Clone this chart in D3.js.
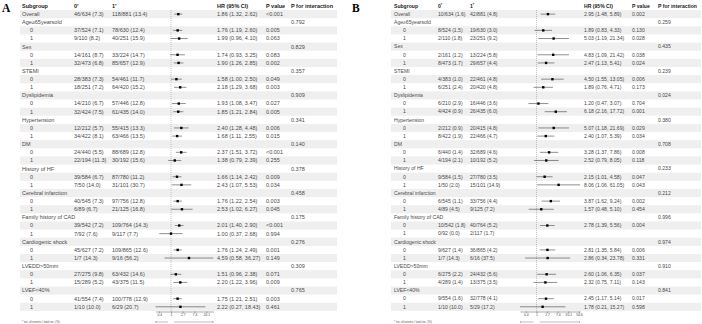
<!DOCTYPE html>
<html>
<head>
<meta charset="utf-8">
<script src="https://cdn.jsdelivr.net/npm/d3@7"></script>
<style>
    html, body { margin: 0; padding: 0; background: #ffffff; }
    svg { display: block; font-family: "Liberation Sans", Arial, sans-serif; }
</style>
</head>
<body>
<svg id="chart" width="702" height="324"></svg>
<script>
/* =========================================================
   Data: subgroup rows (shared by both panels)
   ========================================================= */

const rowLabels = [
    "Overall",
    "Age≥65yearsold", "0", "1",
    "Sex", "0", "1",
    "STEMI", "0", "1",
    "Dyslipidemia", "0", "1",
    "Hypertension", "0", "1",
    "DM", "0", "1",
    "History of HF", "0", "1",
    "Cerebral infarction", "0", "1",
    "Family history of CAD", "0", "1",
    "Cardiogenic shock", "0", "1",
    "LVEDD>50mm", "0", "1",
    "LVEF<40%", "0", "1"
];

const headerLabels = ["Subgroup", "0", "1", "HR (95% CI)", "P value", "P for interaction"];

/* ---------- Panel A ---------- */

const aEvents0 = ["46/634 (7.3)", "", "37/524 (7.1)", "9/110 (8.2)", "", "14/161 (8.7)", "32/473 (6.8)", "", "28/383 (7.3)", "18/251 (7.2)", "", "14/210 (6.7)", "32/424 (7.5)", "", "12/212 (5.7)", "34/422 (8.1)", "", "24/440 (5.5)", "22/194 (11.3)", "", "39/584 (6.7)", "7/50 (14.0)", "", "40/545 (7.3)", "6/89 (6.7)", "", "39/542 (7.2)", "7/92 (7.6)", "", "45/627 (7.2)", "1/7 (14.3)", "", "27/275 (9.8)", "15/289 (5.2)", "", "41/554 (7.4)", "1/10 (10.0)"];
const aEvents1 = ["118/881 (13.4)", "", "78/630 (12.4)", "40/251 (15.9)", "", "33/224 (14.7)", "85/657 (12.9)", "", "54/461 (11.7)", "64/420 (15.2)", "", "57/446 (12.8)", "61/435 (14.0)", "", "55/415 (13.3)", "63/466 (13.5)", "", "88/689 (12.8)", "30/192 (15.6)", "", "87/780 (11.2)", "31/101 (30.7)", "", "97/756 (12.8)", "21/125 (16.8)", "", "109/764 (14.3)", "9/117 (7.7)", "", "109/865 (12.6)", "9/16 (56.2)", "", "63/432 (14.6)", "43/375 (11.5)", "", "100/778 (12.9)", "6/29 (20.7)"];
const aHR = [1.86, null, 1.76, 1.99, null, 1.74, 1.90, null, 1.58, 2.18, null, 1.93, 1.85, null, 2.40, 1.68, null, 2.37, 1.38, null, 1.66, 2.43, null, 1.76, 2.53, null, 2.01, 1.00, null, 1.76, 4.59, null, 1.51, 2.20, null, 1.75, 2.22];
const aLo = [1.32, null, 1.19, 0.96, null, 0.93, 1.26, null, 1.00, 1.29, null, 1.08, 1.21, null, 1.28, 1.11, null, 1.51, 0.79, null, 1.14, 1.07, null, 1.22, 1.02, null, 1.40, 0.37, null, 1.24, 0.58, null, 0.96, 1.22, null, 1.21, 0.27];
const aHi = [2.62, null, 2.60, 4.10, null, 3.25, 2.85, null, 2.50, 3.68, null, 3.47, 2.84, null, 4.48, 2.55, null, 3.72, 2.39, null, 2.42, 5.53, null, 2.54, 6.27, null, 2.90, 2.68, null, 2.49, 36.27, null, 2.38, 3.96, null, 2.51, 18.43];
const aP = ["<0.001", "", "0.005", "0.063", "", "0.083", "0.002", "", "0.049", "0.003", "", "0.027", "0.005", "", "0.006", "0.015", "", "<0.001", "0.255", "", "0.009", "0.034", "", "0.003", "0.045", "", "<0.001", "0.994", "", "0.001", "0.149", "", "0.071", "0.009", "", "0.003", "0.461"];
const aPint = ["", "0.792", "", "", "0.829", "", "", "0.357", "", "", "0.909", "", "", "0.341", "", "", "0.140", "", "", "0.378", "", "", "0.458", "", "", "0.175", "", "", "0.276", "", "", "0.309", "", "", "0.765", "", ""];
const aTickLabels = ["0.4", "1", "2.7", "7.4", "20.1"];

/* ---------- Panel B ---------- */

const bEvents0 = ["10/634 (1.6)", "", "8/524 (1.5)", "2/110 (1.8)", "", "2/161 (1.2)", "8/473 (1.7)", "", "4/383 (1.0)", "6/251 (2.4)", "", "6/210 (2.9)", "4/424 (0.9)", "", "2/212 (0.9)", "8/422 (1.9)", "", "6/440 (1.4)", "4/194 (2.1)", "", "9/584 (1.5)", "1/50 (2.0)", "", "6/545 (1.1)", "4/89 (4.5)", "", "10/542 (1.8)", "0/92 (0.0)", "", "9/627 (1.4)", "1/7 (14.3)", "", "6/275 (2.2)", "4/289 (1.4)", "", "9/554 (1.6)", "1/10 (10.0)"];
const bEvents1 = ["42/881 (4.8)", "", "19/630 (3.0)", "23/251 (9.2)", "", "13/224 (5.8)", "29/657 (4.4)", "", "22/461 (4.8)", "20/420 (4.8)", "", "16/446 (3.6)", "26/435 (6.0)", "", "20/415 (4.8)", "22/466 (4.7)", "", "32/689 (4.6)", "10/192 (5.2)", "", "27/780 (3.5)", "15/101 (14.9)", "", "33/756 (4.4)", "9/125 (7.2)", "", "40/764 (5.2)", "2/117 (1.7)", "", "36/865 (4.2)", "6/16 (37.5)", "", "24/432 (5.6)", "13/375 (3.5)", "", "32/778 (4.1)", "5/29 (17.2)"];
const bHR = [2.95, null, 1.89, 5.03, null, 4.83, 2.47, null, 4.50, 1.89, null, 1.20, 6.18, null, 5.07, 2.40, null, 3.28, 2.52, null, 2.15, 8.06, null, 3.87, 1.57, null, 2.78, null, null, 2.81, 2.86, null, 2.60, 2.32, null, 2.45, 1.78];
const bLo = [1.48, null, 0.83, 1.19, null, 1.09, 1.13, null, 1.55, 0.76, null, 0.47, 2.16, null, 1.18, 1.07, null, 1.37, 0.79, null, 1.01, 1.06, null, 1.62, 0.48, null, 1.39, null, null, 1.35, 0.34, null, 1.06, 0.75, null, 1.17, 0.21];
const bHi = [5.89, null, 4.33, 21.34, null, 21.42, 5.41, null, 13.05, 4.71, null, 3.07, 17.72, null, 21.69, 5.39, null, 7.86, 8.05, null, 4.58, 61.05, null, 9.24, 5.10, null, 5.56, null, null, 5.84, 23.78, null, 6.35, 7.11, null, 5.14, 15.27];
const bP = ["0.002", "", "0.130", "0.028", "", "0.038", "0.024", "", "0.006", "0.173", "", "0.704", "0.001", "", "0.029", "0.034", "", "0.008", "0.118", "", "0.047", "0.043", "", "0.002", "0.454", "", "0.004", "", "", "0.006", "0.331", "", "0.037", "0.143", "", "0.017", "0.598"];
const bPint = ["", "0.259", "", "", "0.435", "", "", "0.239", "", "", "0.024", "", "", "0.380", "", "", "0.708", "", "", "0.233", "", "", "0.212", "", "", "0.996", "", "", "0.974", "", "", "0.910", "", "", "0.841", "", ""];
const bTickLabels = ["0.4", "1", "2.7", "7.4", "20.1", "54.6"];

const footnote = "* no. of events / total no. (%)";

/* =========================================================
   Layout constants
   ========================================================= */

const HEADER_Y = 6;
const ROW_H = 8.13;
const AXIS_Y = 311.5;
const ARROW_Y = 322;
const TEXT_COLOR = "#4a4a4a";
const HEAD_COLOR = "#1a1a1a";
const SHADE = "#efefef";

const PANELS = [
    {
        letter: "A", letterX: 2, font: 5.5,
        shadeX0: 20, shadeX1: 337,
        subX: 22, lvlX: 30, c0X: 74, c1X: 112,
        ref: 171, ppu: 11.8,
        hrX: 217, pX: 266, pintX: 291,
        ev0: aEvents0, ev1: aEvents1, hr: aHR, lo: aLo, hi: aHi,
        p: aP, pint: aPint, ticks: aTickLabels
    },
    {
        letter: "B", letterX: 352, font: 5.1,
        shadeX0: 391, shadeX1: 701,
        subX: 394, lvlX: 403, c0X: 438, c1X: 470,
        ref: 536.5, ppu: 10.6,
        hrX: 584, pX: 632, pintX: 658,
        ev0: bEvents0, ev1: bEvents1, hr: bHR, lo: bLo, hi: bHi,
        p: bP, pint: bPint, ticks: bTickLabels
    }
];

const svg = d3.select("#chart");

svg.append("defs").append("marker")
    .attr("id", "arrow")
    .attr("viewBox", "0 0 6 6")
    .attr("refX", 5)
    .attr("refY", 3)
    .attr("markerWidth", 4)
    .attr("markerHeight", 4)
    .attr("orient", "auto-start-reverse")
    .append("path")
    .attr("d", "M0,0 L6,3 L0,6")
    .attr("fill", "none")
    .attr("stroke", "#555")
    .attr("stroke-width", 1);

function rowY(i) {
    return HEADER_Y + (i + 1) * ROW_H;
}

function fmt(v) {
    return v.toFixed(2);
}

/* =========================================================
   Panel renderer
   ========================================================= */

function drawPanel(cfg) {
    const g = svg.append("g");

    // alternating row shading
    g.selectAll("rect.shade")
        .data(rowLabels.map((_, i) => i).filter(i => i % 2 === 0))
        .enter()
        .append("rect")
        .attr("class", "shade")
        .attr("x", cfg.shadeX0)
        .attr("y", i => rowY(i) - ROW_H / 2)
        .attr("width", cfg.shadeX1 - cfg.shadeX0)
        .attr("height", ROW_H)
        .attr("fill", SHADE);

    // panel letter
    g.append("text")
        .attr("x", cfg.letterX)
        .attr("y", 11.5)
        .attr("font-family", "'Liberation Serif', 'Times New Roman', serif")
        .attr("font-weight", 700)
        .attr("font-size", 11.5)
        .attr("fill", "#000")
        .text(cfg.letter);

    // header row
    const hx = [cfg.subX, cfg.c0X, cfg.c1X, cfg.hrX, cfg.pX, cfg.pintX];
    headerLabels.forEach((t, k) => {
        const txt = g.append("text")
            .attr("x", hx[k])
            .attr("y", HEADER_Y)
            .attr("dy", "0.35em")
            .attr("font-size", cfg.font)
            .attr("font-weight", 700)
            .attr("fill", HEAD_COLOR)
            .text(t);
        if (k === 1 || k === 2) {
            txt.append("tspan")
                .attr("font-size", cfg.font * 0.7)
                .attr("dy", -1.4)
                .text("*");
        }
    });

    // table text
    rowLabels.forEach((lab, i) => {
        const y = rowY(i);
        const isLevel = (lab === "0" || lab === "1") && i > 0;
        const cells = [
            [isLevel ? cfg.lvlX : cfg.subX, lab],
            [cfg.c0X, cfg.ev0[i]],
            [cfg.c1X, cfg.ev1[i]],
            [cfg.hrX, cfg.hr[i] != null ? `${fmt(cfg.hr[i])} (${fmt(cfg.lo[i])}, ${fmt(cfg.hi[i])})` : ""],
            [cfg.pX, cfg.p[i]],
            [cfg.pintX, cfg.pint[i]]
        ];
        cells.forEach(([x, t]) => {
            if (!t) return;
            g.append("text")
                .attr("x", x)
                .attr("y", y)
                .attr("dy", "0.35em")
                .attr("font-size", cfg.font)
                .attr("fill", TEXT_COLOR)
                .text(t);
        });
    });

    // forest scale (log)
    const all = cfg.lo.concat(cfg.hi).filter(v => v != null);
    const ext = d3.extent(all);
    const x = d3.scaleLog()
        .domain(ext)
        .range([cfg.ref + Math.log(ext[0]) * cfg.ppu, cfg.ref + Math.log(ext[1]) * cfg.ppu]);

    // reference line at HR = 1
    g.append("line")
        .attr("x1", x(1)).attr("x2", x(1))
        .attr("y1", rowY(0) - ROW_H / 2)
        .attr("y2", AXIS_Y)
        .attr("stroke", "#888")
        .attr("stroke-width", 0.5)
        .attr("stroke-dasharray", "1,1");

    const idx = cfg.hr.map((v, i) => i).filter(i => cfg.hr[i] != null);

    g.selectAll("line.ci")
        .data(idx)
        .enter()
        .append("line")
        .attr("class", "ci")
        .attr("x1", i => x(cfg.lo[i]))
        .attr("x2", i => x(cfg.hi[i]))
        .attr("y1", i => rowY(i))
        .attr("y2", i => rowY(i))
        .attr("stroke", "#222")
        .attr("stroke-width", 0.5);

    g.selectAll("rect.pt")
        .data(idx)
        .enter()
        .append("rect")
        .attr("class", "pt")
        .attr("x", i => x(cfg.hr[i]) - 1.2)
        .attr("y", i => rowY(i) - 1.2)
        .attr("width", 2.4)
        .attr("height", 2.4)
        .attr("fill", "#000");

    // axis
    const tickVals = cfg.ticks.map((_, k) => Math.exp(k - 1));
    const axis = g.append("g")
        .attr("transform", `translate(0,${AXIS_Y})`)
        .call(d3.axisBottom(x)
            .tickValues(tickVals)
            .tickFormat((_, k) => cfg.ticks[k])
            .tickSize(1.5)
            .tickSizeOuter(0)
            .tickPadding(1));
    axis.select(".domain").attr("stroke", "#555").attr("stroke-width", 0.5);
    axis.selectAll(".tick line").attr("stroke", "#555").attr("stroke-width", 0.5);
    axis.selectAll(".tick text")
        .attr("font-size", 3.3)
        .attr("font-family", "'Liberation Sans', Arial, sans-serif")
        .attr("fill", "#444");

    // direction arrows
    const xr = x.range();
    g.append("line")
        .attr("x1", x(1) - 3).attr("x2", xr[0])
        .attr("y1", ARROW_Y).attr("y2", ARROW_Y)
        .attr("stroke", "#555").attr("stroke-width", 0.4)
        .attr("marker-end", "url(#arrow)");
    g.append("line")
        .attr("x1", x(1) + 3).attr("x2", xr[1])
        .attr("y1", ARROW_Y).attr("y2", ARROW_Y)
        .attr("stroke", "#555").attr("stroke-width", 0.4)
        .attr("marker-end", "url(#arrow)");

    // footnote
    g.append("text")
        .attr("x", cfg.subX)
        .attr("y", 321.5)
        .attr("dy", "0.35em")
        .attr("font-size", 3)
        .attr("fill", "#555")
        .text(footnote);
}

PANELS.forEach(drawPanel);
</script>
</body>
</html>
